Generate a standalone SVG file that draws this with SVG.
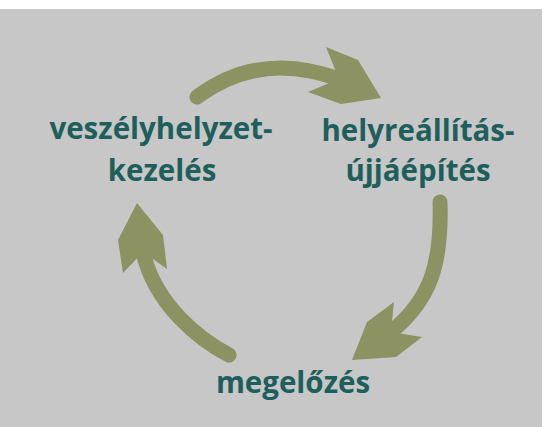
<svg xmlns="http://www.w3.org/2000/svg" width="543" height="427" viewBox="0 0 543 427">
<style>
.lbl{font-family:"Open Sans","Liberation Sans",sans-serif;font-weight:bold;font-size:29.5px;fill:#1f5f5b;text-anchor:middle}
.shaft{fill:none;stroke:#8c9262;stroke-width:15;stroke-linecap:round}
.head{fill:#8c9262}
</style>
<rect x="0" y="0" width="543" height="427" fill="#ffffff"/>
<rect x="0" y="9" width="542" height="418" fill="#c6c7c6"/>
<g id="connectors">
<g id="arrow-top">
<path class="shaft" d="M197,97 Q260,50 339,79"/>
<polygon class="head" points="326,47 358,60 381,98 341,104 308,92 339,79"/>
</g>
<g id="arrow-right">
<path class="shaft" d="M440,202 C442,265 430,300 391,332"/>
<polygon class="head" points="394,302 367,322 352,360 396,357 422,337 391,332"/>
</g>
<g id="arrow-left">
<path class="shaft" d="M229,355 C200,340 155,305 143,252"/>
<polygon class="head" points="137,203 118,240 123,273 143,252 167,269 163,235"/>
</g>
</g>
<g id="node-veszely">
<text class="lbl" x="161" y="139">veszélyhelyzet-</text>
<text class="lbl" x="162" y="181">kezelés</text>
</g>
<g id="node-helyreallitas">
<text class="lbl" x="418" y="141">helyreállítás-</text>
<text class="lbl" x="418" y="181">újjáépítés</text>
</g>
<g id="node-megelozes">
<text class="lbl" x="293" y="393">megelőzés</text>
</g>
</svg>
